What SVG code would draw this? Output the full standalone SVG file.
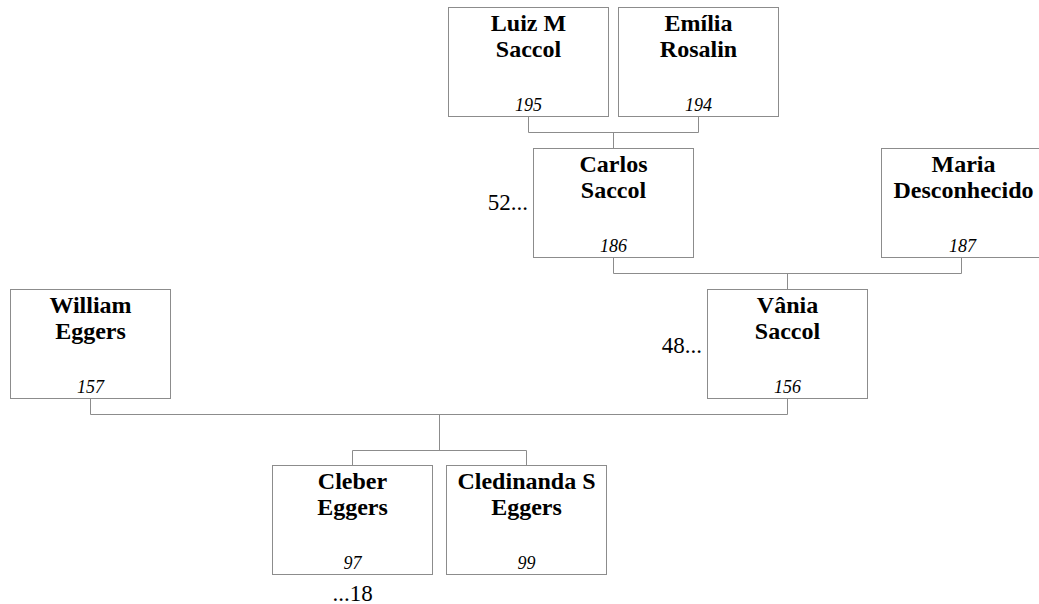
<svg xmlns="http://www.w3.org/2000/svg" width="1039" height="604" viewBox="0 0 1039 604">
<style>
.box{fill:#fff;stroke:#8c8c8c;stroke-width:1}
.ln{fill:none;stroke:#8c8c8c;stroke-width:1}
.nm{font-family:"Liberation Serif","Times New Roman",serif;font-weight:bold;font-size:24px;fill:#000;text-anchor:middle}
.id{font-family:"Liberation Serif","Times New Roman",serif;font-style:italic;font-size:18px;fill:#000;text-anchor:middle}
.ex{font-family:"Liberation Serif","Times New Roman",serif;font-size:23px;fill:#000}
</style>
<rect width="1039" height="604" fill="#fff"/>
<g id="connectors">
<path class="ln" d="M528.5,116.5V132.5H698.5V116.5M613.5,132.5V148.5"/>
<path class="ln" d="M613.5,257.5V273.5H961.5V257.5M787.5,273.5V289.5"/>
<path class="ln" d="M90.5,398.5V414.5H787.5V398.5M439.5,414.5V450.5"/>
<path class="ln" d="M352.5,465.5V450.5H526.5V465.5"/>
</g>
<g id="n195">
<rect class="box" x="448.5" y="7.5" width="160" height="109"/>
<text class="nm" x="528.5" y="31">Luiz M</text>
<text class="nm" x="528.5" y="57">Saccol</text>
<text class="id" x="528.5" y="111">195</text>
</g>
<g id="n194">
<rect class="box" x="618.5" y="7.5" width="160" height="109"/>
<text class="nm" x="698.5" y="31">Emília</text>
<text class="nm" x="698.5" y="57">Rosalin</text>
<text class="id" x="698.5" y="111">194</text>
</g>
<g id="n186">
<rect class="box" x="533.5" y="148.5" width="160" height="109"/>
<text class="nm" x="613.5" y="172">Carlos</text>
<text class="nm" x="613.5" y="198">Saccol</text>
<text class="id" x="613.5" y="252">186</text>
<text class="ex" x="528" y="210" text-anchor="end">52...</text>
</g>
<g id="n187">
<rect class="box" x="881.5" y="148.5" width="160" height="109"/>
<text class="nm" x="963.5" y="172">Maria</text>
<text class="nm" x="963.5" y="198">Desconhecido</text>
<text class="id" x="962.5" y="252">187</text>
</g>
<g id="n157">
<rect class="box" x="10.5" y="289.5" width="160" height="109"/>
<text class="nm" x="90.5" y="313">William</text>
<text class="nm" x="90.5" y="339">Eggers</text>
<text class="id" x="90.5" y="393">157</text>
</g>
<g id="n156">
<rect class="box" x="707.5" y="289.5" width="160" height="109"/>
<text class="nm" x="787.5" y="313">Vânia</text>
<text class="nm" x="787.5" y="339">Saccol</text>
<text class="id" x="787.5" y="393">156</text>
<text class="ex" x="702" y="353" text-anchor="end">48...</text>
</g>
<g id="n97">
<rect class="box" x="272.5" y="465.5" width="160" height="109"/>
<text class="nm" x="352.5" y="489">Cleber</text>
<text class="nm" x="352.5" y="515">Eggers</text>
<text class="id" x="352.5" y="569">97</text>
<text class="ex" x="352.5" y="601" text-anchor="middle">...18</text>
</g>
<g id="n99">
<rect class="box" x="446.5" y="465.5" width="160" height="109"/>
<text class="nm" x="526.5" y="489">Cledinanda S</text>
<text class="nm" x="526.5" y="515">Eggers</text>
<text class="id" x="526.5" y="569">99</text>
</g>
</svg>
